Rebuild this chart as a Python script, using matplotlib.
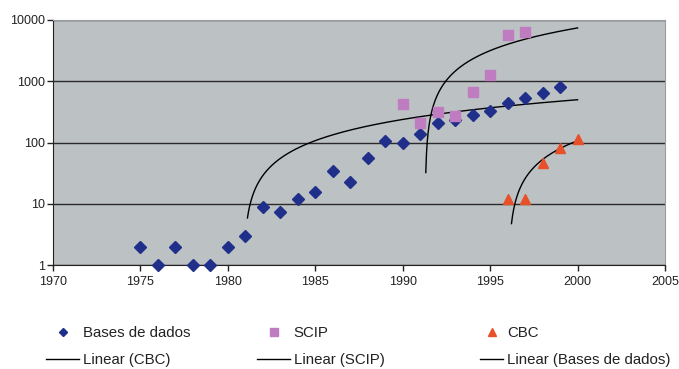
import numpy as np
import matplotlib
matplotlib.use("Agg")
import matplotlib.pyplot as plt
from matplotlib.lines import Line2D

plt.rcParams['font.family'] = ['Liberation Sans', 'DejaVu Sans']

# Data
bases_years = list(range(1975, 2000))
bases_vals = [2, 1, 2, 1, 1, 2, 3, 9, 7.2, 12, 15.5, 34, 23, 55, 105, 99,
              140, 205, 233, 277, 325, 447, 540, 650, 800]

scip_years = list(range(1990, 1998))
scip_vals = [430, 210, 318, 270, 668, 1260, 5650, 6300]

cbc_years = list(range(1996, 2001))
cbc_vals = [12, 12, 46, 82, 112]

x_ticks = list(range(1970, 2006, 5))
y_ticks = [1, 10, 100, 1000, 10000]
y_labels = ['1', '10', '100', '1000', '10000']

BG = '#bcc1c4'
BLUE = '#1f2f8a'
PINK = '#c07cc0'
ORANGE = '#e8502a'


def trend(xs, ys, floor, end=2000, step=0.02):
    # linear least squares trendline; on the log axis it is only drawn
    # from the first sampled point the chart shows (floor) onwards
    b, a = np.polyfit(xs, ys, 1)
    gx = np.arange(xs[0], end + step / 2, step)
    gy = a + b * gx
    keep = gy >= floor
    return gx[keep], gy[keep]


fig = plt.figure(figsize=(6.79, 3.69), dpi=100)
ax = fig.add_axes([53 / 679, 1 - 265 / 369, (665 - 53) / 679, (265 - 20) / 369])
ax.set_facecolor(BG)

ax.set_yscale('log')
ax.set_ylim(1, 10000)
ax.set_xlim(1970, 2005)
ax.set_yticks(y_ticks)
ax.set_yticklabels(y_labels)
ax.yaxis.set_minor_locator(matplotlib.ticker.NullLocator())
ax.set_xticks(x_ticks)
ax.grid(axis='y', color='#2a2a2a', linewidth=1.0)
ax.set_axisbelow(True)

ax.tick_params(axis='both', labelsize=9, length=4, width=1, color='#222222',
               labelcolor='#222222', direction='out')
ax.tick_params(axis='x', pad=4)
ax.tick_params(axis='y', pad=2)
for side in ['left', 'bottom']:
    ax.spines[side].set_color('#222222')
for side in ['right', 'top']:
    ax.spines[side].set_color('#9a9ea2')

# Trendlines
tx, ty = trend(cbc_years, cbc_vals, 4.2)
ax.plot(tx, ty, color='black', linewidth=1.0, zorder=3)
tx, ty = trend(scip_years, scip_vals, 30)
ax.plot(tx, ty, color='black', linewidth=1.0, zorder=3)
tx, ty = trend(bases_years, bases_vals, 5.8)
ax.plot(tx, ty, color='black', linewidth=1.0, zorder=3)

# Data points
ax.plot(bases_years, bases_vals, linestyle='none', marker='D', markersize=6,
        color=BLUE, zorder=4, clip_on=False)
ax.plot(scip_years, scip_vals, linestyle='none', marker='s', markersize=6.5,
        color=PINK, zorder=4)
ax.plot(cbc_years, cbc_vals, linestyle='none', marker='^', markersize=7.5,
        color=ORANGE, zorder=4)

# Legend: three columns, marker entry on top, trendline entry below
h_bases = Line2D([], [], linestyle='none', marker='D', markersize=4.5, color=BLUE)
h_scip = Line2D([], [], linestyle='none', marker='s', markersize=5.5, color=PINK)
h_cbc = Line2D([], [], linestyle='none', marker='^', markersize=6, color=ORANGE)
h_line = Line2D([], [], color='black', linewidth=1.0)

columns = [
    (46, 2.2, [h_bases, h_line], ['Bases de dados', 'Linear (CBC)']),
    (257, 2.2, [h_scip, h_line], ['SCIP', 'Linear (SCIP)']),
    (480, 1.55, [h_cbc, h_line], ['CBC', 'Linear (Bases de dados)']),
]
for x0, hlen, hs, ls in columns:
    fig.legend(hs, ls, loc='upper left',
               bbox_to_anchor=(x0 / 679, 1 - 326 / 369), frameon=False,
               fontsize=10.8, handlelength=hlen, handletextpad=0.25,
               labelspacing=0.85, borderpad=0, borderaxespad=0,
               labelcolor='#222222')

fig.savefig('out.png', dpi=100)
